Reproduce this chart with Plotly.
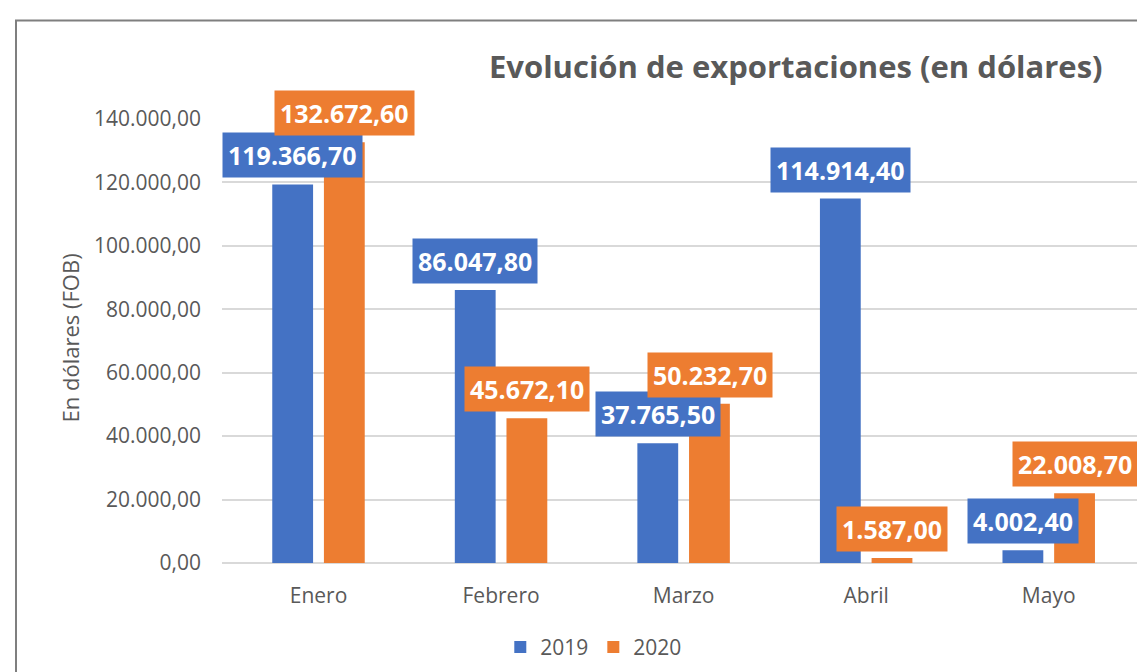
import plotly.graph_objects as go

months = ["Enero", "Febrero", "Marzo", "Abril", "Mayo"]
v2019 = [119366.70, 86047.80, 37765.50, 114914.40, 4002.40]
v2020 = [132672.60, 45672.10, 50232.70, 1587.00, 22008.70]
series_names = ["2019", "2020"]
colors = ["#4472C4", "#ED7D31"]
FONT = "Open Sans"
GREY = "#595959"

def fmt(v):
    s = f"{v:,.2f}"
    return s.replace(",", "X").replace(".", ",").replace("X", ".")

fig = go.Figure()
for name, vals, col in zip(series_names, [v2019, v2020], colors):
    fig.add_trace(go.Bar(x=months, y=vals, name=name, marker=dict(color=col, line=dict(width=0))))

ann = []
for si, (vals, col) in enumerate(zip([v2019, v2020], colors)):
    for m, v in zip(months, vals):
        ann.append(dict(x=m, y=v, xref="x", yref="y", text=fmt(v), showarrow=False,
                        xshift=-26 if si == 0 else 26, yshift=29, yanchor="middle", xanchor="center",
                        bgcolor=col, borderpad=5,
                        font=dict(family=FONT, size=25, color="white", weight="bold")))
ann.append(dict(text="En dólares (FOB)", x=-0.1656, y=0.508, xref="paper", yref="paper",
                textangle=-90, showarrow=False, xanchor="center", yanchor="middle",
                font=dict(family=FONT, size=22, color=GREY)))

fig.update_layout(
    width=1145, height=672,
    margin=dict(l=214, r=13, t=111, b=115),
    paper_bgcolor="white", plot_bgcolor="white",
    separators=",.",
    bargap=0.434, bargroupgap=0.21, barmode="group",
    title=dict(text="<b>Evolución de exportaciones (en dólares)</b>", x=0.688, xanchor="center",
               y=0.912, yanchor="middle", xref="container", yref="container",
               font=dict(family=FONT, size=31, color=GREY)),
    legend=dict(orientation="h", x=0.405, xanchor="center", y=-0.19, yanchor="middle",
                font=dict(family=FONT, size=21, color=GREY)),
    annotations=ann,
    showlegend=True,
    shapes=[dict(type="rect", xref="paper", yref="paper", x0=-0.2244, x1=1.03, y0=-0.3, y1=1.222,
                 line=dict(color="#7f7f7f", width=2), fillcolor="rgba(0,0,0,0)", layer="below")],
)
fig.update_yaxes(range=[0, 140000], dtick=20000, tickformat=",.2f", showgrid=True,
                 gridcolor="#d9d9d9", gridwidth=1.5, zeroline=True, zerolinecolor="#d9d9d9",
                 zerolinewidth=1.5, showline=False, ticklabelstandoff=20,
                 tickfont=dict(family=FONT, size=21, color=GREY))
fig.update_xaxes(showgrid=False, showline=False, ticklabelstandoff=18,
                 tickfont=dict(family=FONT, size=21, color=GREY))

fig.write_html("out.html")
